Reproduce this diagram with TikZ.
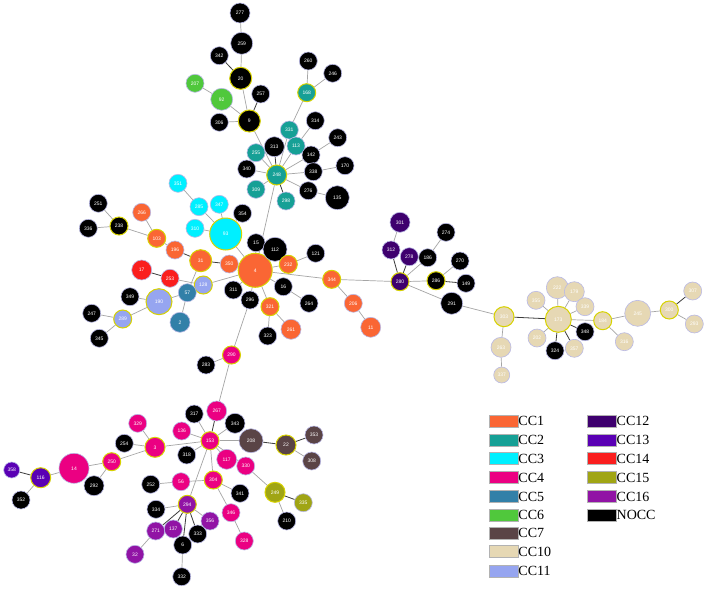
\documentclass[tikz,border=0pt]{standalone}
\usepackage{fontspec}
\setmainfont{Liberation Serif}
\newfontfamily\lblfont{Liberation Sans}
\usetikzlibrary{backgrounds}
\definecolor{c1}{RGB}{250,102,52}
\definecolor{c2}{RGB}{22,160,150}
\definecolor{c3}{RGB}{0,240,255}
\definecolor{c4}{RGB}{235,0,130}
\definecolor{c5}{RGB}{50,128,168}
\definecolor{c6}{RGB}{80,200,60}
\definecolor{c7}{RGB}{90,68,70}
\definecolor{c10}{RGB}{230,216,180}
\definecolor{c11}{RGB}{150,165,240}
\definecolor{c12}{RGB}{62,0,110}
\definecolor{c13}{RGB}{90,0,180}
\definecolor{c14}{RGB}{250,30,30}
\definecolor{c15}{RGB}{160,165,20}
\definecolor{c16}{RGB}{145,20,165}
\definecolor{rimc}{RGB}{185,185,230}
\definecolor{yelc}{RGB}{215,210,0}
\definecolor{edgec}{RGB}{165,165,165}
\definecolor{darkc}{RGB}{60,60,60}
\begin{document}
\begin{tikzpicture}[x=1pt,y=-1pt,
  nd/.style={circle,inner sep=0pt,minimum size=18pt,draw=rimc,line width=0.6pt,text=white,font=\lblfont\fontsize{5}{5}\selectfont},
  yo/.style={draw=yelc,line width=1pt},
  nc/.style={fill=black},
  cc1/.style={fill=c1}, cc2/.style={fill=c2}, cc3/.style={fill=c3}, cc4/.style={fill=c4},
  cc5/.style={fill=c5}, cc6/.style={fill=c6}, cc7/.style={fill=c7}, cc10/.style={fill=c10},
  cc11/.style={fill=c11}, cc12/.style={fill=c12}, cc13/.style={fill=c13}, cc14/.style={fill=c14},
  cc15/.style={fill=c15}, cc16/.style={fill=c16},
  e/.style={draw=edgec,line width=0.7pt},
  d/.style={draw=darkc,line width=0.8pt},
  lg/.style={rectangle,minimum width=29pt,minimum height=12pt,inner sep=0pt,draw=gray!60,line width=0.5pt},
  lt/.style={anchor=west,inner sep=0pt,font=\fontsize{14}{14}\selectfont}]
\useasboundingbox (0,0) rectangle (708,589);
% top
\node[nd,nc,minimum size=20pt] (n277) at (240,13) {277};
\node[nd,nc,minimum size=22pt] (n259) at (241.7,43.3) {259};
\node[nd,nc] (n342) at (219.3,55.7) {342};
\node[nd,nc,yo,minimum size=22pt] (n20) at (240.7,78.3) {20};
\node[nd,cc6] (n207) at (195,83.3) {207};
\node[nd,cc6,minimum size=22pt] (n92) at (221.7,99.3) {92};
\node[nd,nc] (n257) at (260.7,94) {257};
\node[nd,nc] (n306) at (219.3,122.3) {306};
\node[nd,nc,yo,minimum size=22pt] (n9) at (249.3,121) {9};
\node[nd,nc] (n260) at (308.3,61) {260};
\node[nd,nc] (n246) at (332.7,73.3) {246};
\node[nd,cc2,yo] (n168) at (306.7,92.7) {168};
\node[nd,nc] (n314) at (315.3,120.7) {314};
\node[nd,cc2] (n331) at (289.3,130) {331};
\node[nd,nc] (n243) at (337.7,137.7) {243};
\node[nd,nc,minimum size=20pt] (n313) at (274.3,146.7) {313};
\node[nd,cc2] (n113) at (296,146) {113};
\node[nd,cc2] (n255) at (256,152.7) {255};
\node[nd,nc] (n142) at (311,155) {142};
\node[nd,nc] (n170) at (345,165.7) {170};
\node[nd,nc] (n340) at (246.7,169) {340};
\node[nd,cc2,yo,minimum size=20pt] (n248) at (276.7,175) {248};
\node[nd,nc] (n338) at (313.3,171.7) {338};
\node[nd,nc] (n276) at (308.3,190.7) {276};
\node[nd,nc,minimum size=24pt] (n135) at (337.3,197.7) {135};
\node[nd,cc2] (n309) at (256,189.3) {309};
\node[nd,cc2] (n298) at (286,201) {298};
% left
\node[nd,cc3] (n351) at (178,183.3) {351};
\node[nd,cc3] (n285) at (199,206.7) {285};
\node[nd,cc3] (n347) at (219.3,204.3) {347};
\node[nd,nc] (n354) at (242.5,213.3) {354};
\node[nd,nc] (n251) at (98.3,203.3) {251};
\node[nd,cc1] (n266) at (141.7,212.3) {266};
\node[nd,nc] (n336) at (88.3,228.3) {336};
\node[nd,nc,yo] (n238) at (119,226) {238};
\node[nd,cc3] (n310) at (195,228.3) {310};
\node[nd,cc3,yo,minimum size=32pt] (n93) at (225.7,234) {93};
\node[nd,cc1,yo] (n103) at (156.7,238.3) {103};
\node[nd,nc] (n15) at (256,242.7) {15};
\node[nd,cc1] (n196) at (175,250) {196};
\node[nd,cc1,yo,minimum size=22pt] (n31) at (200.7,260.7) {31};
\node[nd,cc1] (n350) at (229.3,264) {350};
\node[nd,cc1,yo,minimum size=34pt] (n4) at (255.2,270.3) {4};
\node[nd,cc14,minimum size=20pt] (n17) at (141.7,270) {17};
\node[nd,cc14] (n253) at (170,278.3) {253};
\node[nd,cc11,yo] (n128) at (203.3,285) {128};
\node[nd,nc] (n311) at (233.3,290) {311};
\node[nd,nc] (n349) at (130,296.7) {349};
\node[nd,cc5] (n57) at (187.3,292.7) {57};
\node[nd,cc11,yo,minimum size=26pt] (n190) at (159,301.7) {190};
\node[nd,nc] (n296) at (250,300) {296};
\node[nd,nc] (n247) at (91.7,313.3) {247};
\node[nd,cc11,yo] (n289) at (122.7,319) {289};
\node[nd,cc5,minimum size=20pt] (n2) at (180,322.3) {2};
\node[nd,nc] (n345) at (99.3,338.3) {345};
\node[nd,cc4,yo] (n290) at (231.5,355) {290};
% center
\node[nd,nc,minimum size=24pt] (n112) at (275,249.3) {112};
\node[nd,nc] (n121) at (315.7,253.3) {121};
\node[nd,cc1,yo] (n232) at (288.3,264.3) {232};
\node[nd,cc1,yo] (n344) at (331.7,279.3) {344};
\node[nd,nc] (n16) at (283.3,286.7) {16};
\node[nd,cc1,yo] (n321) at (270,306.7) {321};
\node[nd,nc] (n264) at (309,303.3) {264};
\node[nd,cc1] (n206) at (353.3,303.3) {206};
\node[nd,cc1,minimum size=20pt] (n261) at (291,329.3) {261};
\node[nd,nc] (n323) at (267.7,336) {323};
\node[nd,cc1,minimum size=20pt] (n11) at (370.7,327.3) {11};
% right
\node[nd,cc12,minimum size=20pt] (n301) at (400,222.3) {301};
\node[nd,cc12] (n312) at (391,250) {312};
\node[nd,cc12] (n278) at (409.3,256.7) {278};
\node[nd,cc12,yo] (n280) at (400,281.7) {280};
\node[nd,nc] (n274) at (446,232.3) {274};
\node[nd,nc] (n186) at (427.7,257.7) {186};
\node[nd,nc] (n270) at (460,261) {270};
\node[nd,nc,yo] (n286) at (436,280.7) {286};
\node[nd,nc] (n149) at (466,283.3) {149};
\node[nd,nc,minimum size=22pt] (n291) at (451.7,303.3) {291};
\node[nd,cc10,yo,minimum size=20pt] (n303) at (504,316.7) {303};
\node[nd,cc10] (n355) at (536,300.3) {355};
\node[nd,cc10] (n202) at (537,338) {202};
\node[nd,cc10,minimum size=20pt] (n263) at (501,347.3) {263};
\node[nd,cc10,minimum size=16pt] (n337) at (501.7,375) {337};
\node[nd,cc10,minimum size=22pt] (n222) at (557.3,287.7) {222};
\node[nd,cc10,minimum size=20pt] (n179) at (574.3,291.7) {179};
\node[nd,cc10] (n339) at (585,306.7) {339};
\node[nd,cc10,yo,minimum size=26pt] (n173) at (558.3,319.3) {173};
\node[nd,cc10,yo] (n184) at (602.7,320.7) {184};
\node[nd,cc10,minimum size=26pt] (n245) at (637.7,313.3) {245};
\node[nd,cc10,yo] (n300) at (669.3,310) {300};
\node[nd,cc10] (n307) at (692.7,291) {307};
\node[nd,cc10] (n293) at (694.3,324) {293};
\node[nd,nc] (n348) at (585,331.7) {348};
\node[nd,nc] (n324) at (555,350.7) {324};
\node[nd,cc10] (n357) at (574.3,348.3) {357};
\node[nd,cc10] (n316) at (624.3,341.7) {316};
% bottom
\node[nd,nc] (n283) at (206,365) {283};
\node[nd,cc4,minimum size=20pt] (n267) at (216.7,411) {267};
\node[nd,nc] (n317) at (194.2,414) {317};
\node[nd,nc,minimum size=20pt] (n343) at (235,423.3) {343};
\node[nd,cc4] (n329) at (137.7,423.3) {329};
\node[nd,cc4] (n136) at (181.7,431) {136};
\node[nd,nc] (n254) at (124.3,443.3) {254};
\node[nd,cc4,yo,minimum size=20pt] (n3) at (155,447.3) {3};
\node[nd,cc4,yo] (n153) at (210,440.7) {153};
\node[nd,cc7,minimum size=24pt] (n208) at (251,440.7) {208};
\node[nd,cc7,yo,minimum size=20pt] (n22) at (286,445) {22};
\node[nd,cc7] (n353) at (314,435) {353};
\node[nd,cc7] (n308) at (311.7,461) {308};
\node[nd,nc] (n318) at (186.7,455) {318};
\node[nd,cc4,minimum size=20pt] (n117) at (226.7,459.3) {117};
\node[nd,cc4] (n330) at (245.7,466) {330};
\node[nd,cc13,minimum size=16pt] (n358) at (11.7,470) {358};
\node[nd,cc4,yo] (n250) at (111.7,461.7) {250};
\node[nd,cc4,minimum size=30pt] (n14) at (74,468.3) {14};
\node[nd,cc13,yo,minimum size=20pt] (n116) at (40.7,477.7) {116};
\node[nd,nc,minimum size=20pt] (n292) at (94,485.7) {292};
\node[nd,nc] (n252) at (150.7,484.3) {252};
\node[nd,cc4] (n56) at (181,481.7) {56};
\node[nd,cc4,yo] (n304) at (213.3,480) {304};
\node[nd,cc15,yo,minimum size=20pt] (n249) at (275,492.3) {249};
\node[nd,nc] (n341) at (240,493.3) {341};
\node[nd,cc15] (n335) at (303.3,502.7) {335};
\node[nd,nc] (n352) at (21,500) {352};
\node[nd,cc16,yo] (n294) at (187.3,504.3) {294};
\node[nd,nc] (n334) at (156,509.3) {334};
\node[nd,cc4] (n346) at (231,512.7) {346};
\node[nd,cc16] (n356) at (210,521) {356};
\node[nd,nc] (n210) at (286.7,521) {210};
\node[nd,cc16] (n271) at (155.7,531) {271};
\node[nd,cc16] (n137) at (173.3,529) {137};
\node[nd,nc] (n333) at (197.7,534) {333};
\node[nd,nc] (n6) at (182.7,545) {6};
\node[nd,cc4] (n328) at (244.3,541) {328};
\node[nd,cc16] (n32) at (135,554.3) {32};
\node[nd,nc] (n332) at (181.7,576.7) {332};
% legend
\node[lg,fill=c1] (l1) at (503.5,421) {}; \node[lt] (t1) at (l1.east) {CC1};
\node[lg,fill=c2] (l2) at (503.5,440) {}; \node[lt] (t2) at (l2.east) {CC2};
\node[lg,fill=c3] (l3) at (503.5,458.5) {}; \node[lt] (t3) at (l3.east) {CC3};
\node[lg,fill=c4] (l4) at (503.5,477.5) {}; \node[lt] (t4) at (l4.east) {CC4};
\node[lg,fill=c5] (l5) at (503.5,496.5) {}; \node[lt] (t5) at (l5.east) {CC5};
\node[lg,fill=c6] (l6) at (503.5,515) {}; \node[lt] (t6) at (l6.east) {CC6};
\node[lg,fill=c7] (l7) at (503.5,533.3) {}; \node[lt] (t7) at (l7.east) {CC7};
\node[lg,fill=c10] (l10) at (503.5,551.7) {}; \node[lt] (t10) at (l10.east) {CC10};
\node[lg,fill=c11] (l11) at (503.5,571) {}; \node[lt] (t11) at (l11.east) {CC11};
\node[lg,fill=c12] (l12) at (601.7,421) {}; \node[lt] (t12) at (l12.east) {CC12};
\node[lg,fill=c13] (l13) at (601.7,440) {}; \node[lt] (t13) at (l13.east) {CC13};
\node[lg,fill=c14] (l14) at (601.7,458.5) {}; \node[lt] (t14) at (l14.east) {CC14};
\node[lg,fill=c15] (l15) at (601.7,477.5) {}; \node[lt] (t15) at (l15.east) {CC15};
\node[lg,fill=c16] (l16) at (601.7,496.5) {}; \node[lt] (t16) at (l16.east) {CC16};
\node[lg,fill=black] (l17) at (601.7,515) {}; \node[lt] (t17) at (l17.east) {NOCC};
% edges
\begin{scope}[on background layer]
\fill[white] (0,0) rectangle (708,589);
\foreach \a/\b in {277/259,259/20,20/9,207/92,92/9,306/9,9/248,260/168,246/168,168/331,314/113,
  331/248,113/248,255/248,142/248,338/248,340/248,309/248,276/248,243/142,170/338,276/135,248/4,
  351/285,285/93,347/93,310/93,354/93,93/4,251/238,336/238,238/103,266/103,103/196,350/4,31/57,
  253/128,128/4,57/190,57/2,349/190,190/289,247/289,345/289,15/4,112/4,232/4,121/232,4/344,
  344/280,344/206,206/11,16/4,16/264,311/4,296/4,296/290,321/4,321/323,321/261,290/283,290/267,
  301/312,186/280,274/186,280/286,286/270,280/291,291/303,303/263,263/337,173/355,173/222,
  173/179,173/339,173/202,173/184,184/316,184/245,245/300,300/293,
  153/317,153/343,153/136,153/3,153/318,153/117,153/208,153/304,153/294,153/330,3/329,3/254,
  3/250,250/14,250/292,14/116,116/352,22/308,330/249,249/210,304/56,56/252,304/341,304/346,
  346/328,294/334,294/356,271/32,6/332}
  \draw[e] (n\a) -- (n\b);
\foreach \a/\b in {342/20,257/9,313/248,298/248,196/31,31/350,17/253,312/280,278/280,286/149,
  303/173,173/324,173/357,173/348,300/307,267/153,208/22,22/353,116/358,249/335,294/271,
  294/137,294/333,294/6}
  \draw[d] (n\a) -- (n\b);
\end{scope}
\end{tikzpicture}
\end{document}
